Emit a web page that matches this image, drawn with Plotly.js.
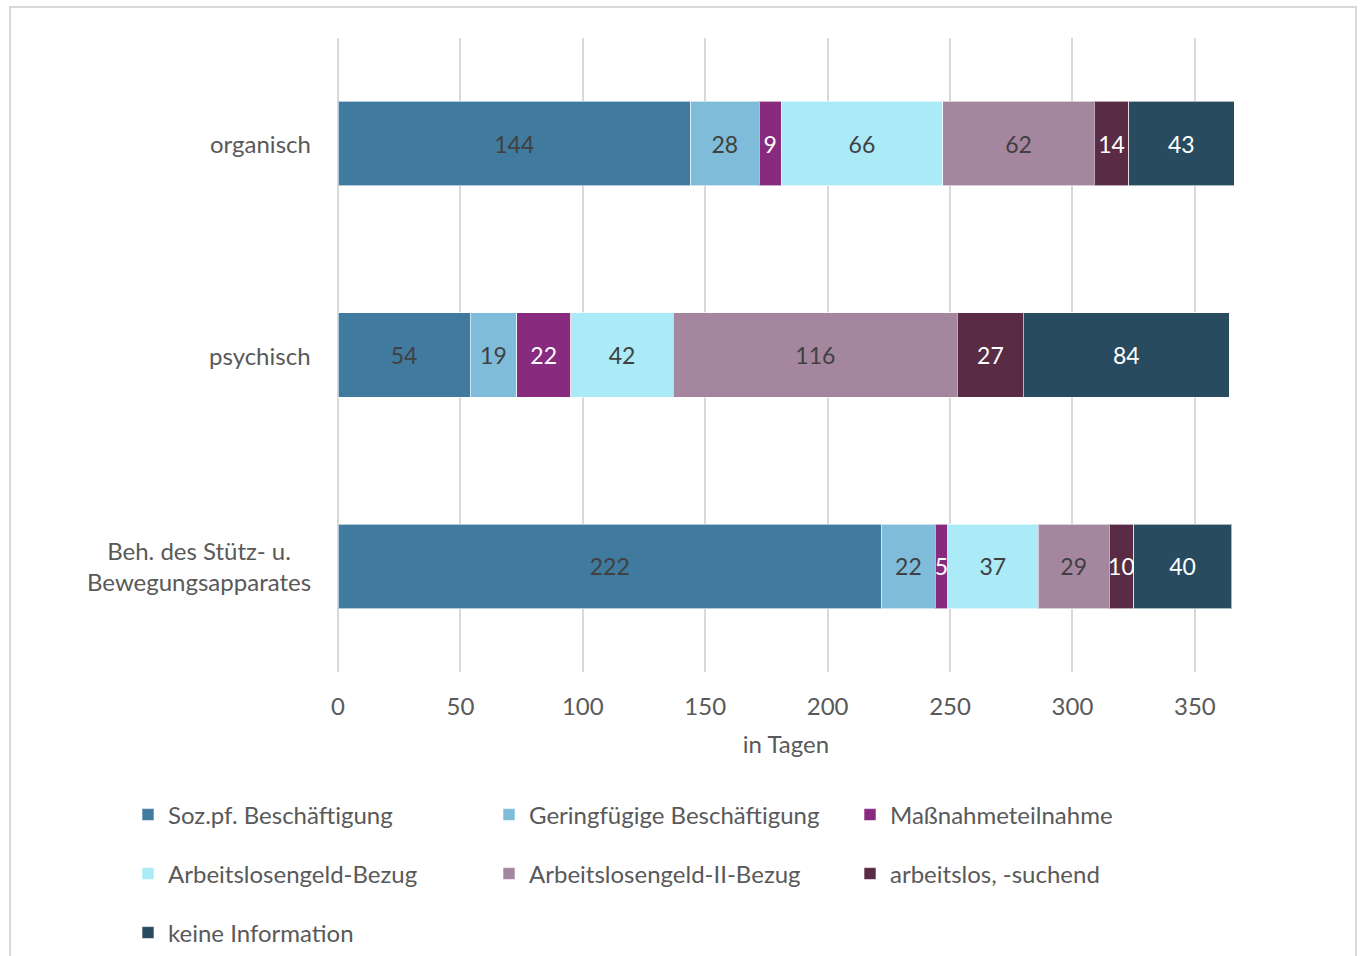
<!DOCTYPE html>
<html>
<head>
<meta charset="utf-8">
<script src="https://cdn.plot.ly/plotly-3.0.1.min.js"></script>
<style>
html,body{margin:0;padding:0;background:#fff;}
#chart{width:1363px;height:956px;}
</style>
</head>
<body>
<div id="chart"></div>
<script>
const categories = ["organisch", "psychisch", "Beh. des Stütz- u.<br>Bewegungsapparates"];
const seriesNames = ["Soz.pf. Beschäftigung", "Geringfügige Beschäftigung", "Maßnahmeteilnahme",
  "Arbeitslosengeld-Bezug", "Arbeitslosengeld-II-Bezug", "arbeitslos, -suchend", "keine Information"];
const sozpf = [144, 54, 222];
const geringfuegig = [28, 19, 22];
const massnahme = [9, 22, 5];
const alg = [66, 42, 37];
const alg2 = [62, 116, 29];
const arbeitslos = [14, 27, 10];
const keineInfo = [43, 84, 40];
const xTicks = [0, 50, 100, 150, 200, 250, 300, 350];
const xTitle = "in Tagen";

const seriesValues = [sozpf, geringfuegig, massnahme, alg, alg2, arbeitslos, keineInfo];
const colors = ["#417a9f", "#7fbcd9", "#882a7e", "#aaebf7", "#a4879f", "#5a2b44", "#284b60"];
const textColors = ["#404040", "#404040", "#ffffff", "#404040", "#404040", "#ffffff", "#ffffff"];
const legendIds = ["legend", "legend", "legend", "legend2", "legend2", "legend2", "legend3"];

const FONT = "Lato, 'Open Sans', sans-serif";
const W = 1363, H = 956;
const M = {l: 338, r: 129, t: 38, b: 284, autoexpand: false};

const traces = seriesValues.map((vals, i) => ({
  type: "bar",
  orientation: "h",
  name: seriesNames[i],
  x: vals,
  y: categories,
  text: vals.map(String),
  textposition: "inside",
  insidetextanchor: "middle",
  textangle: 0,
  textfont: {family: FONT, size: 23, color: textColors[i]},
  marker: {color: colors[i], line: {color: "rgba(255,255,255,0.6)", width: 1}},
  legend: legendIds[i],
  hoverinfo: "skip",
  cliponaxis: false
}));

const pw = W - M.l - M.r, ph = H - M.t - M.b;
const px = v => (v - M.l) / pw;
const py = v => 1 - (v - M.t) / ph;

const legendBase = {
  orientation: "h",
  xref: "paper", yref: "paper",
  x: px(128), xanchor: "left", yanchor: "middle",
  entrywidth: 316, entrywidthmode: "pixels",
  font: {family: FONT, size: 24, color: "#595959"},
  bgcolor: "rgba(0,0,0,0)",
  traceorder: "normal",
  itemclick: false, itemdoubleclick: false
};

const layout = {
  width: W, height: H,
  margin: M,
  paper_bgcolor: "#ffffff",
  plot_bgcolor: "#ffffff",
  barmode: "stack",
  bargap: 0.6,
  font: {family: FONT, size: 23, color: "#595959"},
  uniformtext: {mode: "show", minsize: 23},
  xaxis: {
    range: [0, 366],
    tickvals: xTicks,
    ticktext: xTicks.map(String),
    showgrid: true, gridcolor: "#d9d9d9", gridwidth: 2,
    zeroline: true, zerolinecolor: "#d9d9d9", zerolinewidth: 2,
    showline: false,
    ticks: "outside", ticklen: 13, tickcolor: "rgba(0,0,0,0)",
    tickfont: {family: FONT, size: 24, color: "#595959"},
    title: {text: xTitle, font: {family: FONT, size: 24, color: "#595959"}, standoff: 17},
    fixedrange: true
  },
  yaxis: {
    type: "category",
    categoryorder: "array", categoryarray: categories,
    range: [2.5, -0.5],
    showticklabels: false,
    showgrid: false, zeroline: false, showline: false,
    fixedrange: true
  },
  legend: Object.assign({}, legendBase, {y: py(815)}),
  legend2: Object.assign({}, legendBase, {y: py(874)}),
  legend3: Object.assign({}, legendBase, {y: py(933)}),
  annotations: categories.map(c => ({
    xref: "paper", yref: "y",
    x: px(313), y: c,
    xanchor: "right", yanchor: "middle",
    align: "center",
    text: c,
    showarrow: false,
    font: {family: FONT, size: 24, color: "#595959"}
  })),
  shapes: [{
    type: "rect", xref: "paper", yref: "paper",
    x0: px(10), x1: px(1356), y0: py(990), y1: py(7),
    line: {color: "#d9d9d9", width: 2},
    fillcolor: "rgba(0,0,0,0)", layer: "below"
  }]
};

Plotly.newPlot("chart", traces, layout, {displayModeBar: false, staticPlot: true});
</script>
</body>
</html>
